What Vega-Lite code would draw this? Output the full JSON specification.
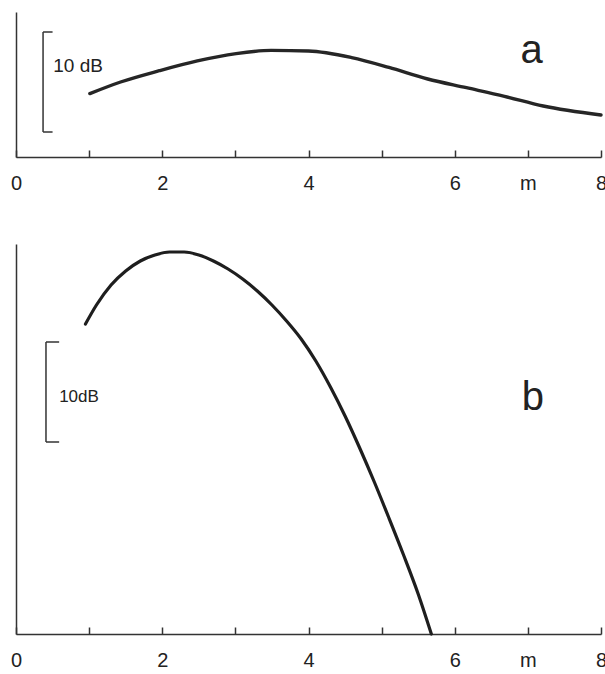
{
  "$schema": "https://vega.github.io/schema/vega-lite/v6.json",
  "padding": {"left": 10, "top": 12, "right": 0, "bottom": 0},
  "spacing": 51,
  "background": "white",
  "config": {
    "view": {"stroke": null},
    "axis": {"grid": false},
    "axisY": {"minExtent": 0, "maxExtent": 0},
    "line": {"color": "#222"}
  },
  "datasets": {
    "curveA": [
      {"x": 1.01, "dB": 6.34}, {"x": 1.43, "dB": 7.5}, {"x": 1.96, "dB": 8.63}, {"x": 2.48, "dB": 9.61},
      {"x": 3.01, "dB": 10.34}, {"x": 3.49, "dB": 10.66}, {"x": 4.0, "dB": 10.6}, {"x": 4.59, "dB": 9.94},
      {"x": 5.1, "dB": 8.96}, {"x": 5.63, "dB": 7.8}, {"x": 6.16, "dB": 6.93}, {"x": 6.68, "dB": 6.07},
      {"x": 7.21, "dB": 5.1}, {"x": 8.0, "dB": 4.2}
    ],
    "curveB": [
      {"x": 0.95, "dB": 31.0}, {"x": 1.1, "dB": 32.9}, {"x": 1.3, "dB": 34.9}, {"x": 1.5, "dB": 36.3},
      {"x": 1.7, "dB": 37.3}, {"x": 1.9, "dB": 37.9}, {"x": 2.1, "dB": 38.2}, {"x": 2.3, "dB": 38.2},
      {"x": 2.5, "dB": 37.9}, {"x": 2.7, "dB": 37.3}, {"x": 2.9, "dB": 36.5}, {"x": 3.1, "dB": 35.5},
      {"x": 3.3, "dB": 34.3}, {"x": 3.5, "dB": 32.9}, {"x": 3.7, "dB": 31.3}, {"x": 3.9, "dB": 29.5},
      {"x": 4.1, "dB": 27.3}, {"x": 4.3, "dB": 24.7}, {"x": 4.5, "dB": 21.8}, {"x": 4.7, "dB": 18.6},
      {"x": 4.9, "dB": 15.2}, {"x": 5.1, "dB": 11.6}, {"x": 5.3, "dB": 7.9}, {"x": 5.5, "dB": 4.0},
      {"x": 5.68, "dB": 0}
    ],
    "barA": [
      {"x": 0.37, "x2": 0.37, "dB": 2.5, "dB2": 12.5},
      {"x": 0.37, "x2": 0.5, "dB": 12.5, "dB2": 12.5},
      {"x": 0.37, "x2": 0.5, "dB": 2.5, "dB2": 2.5}
    ],
    "barB": [
      {"x": 0.41, "x2": 0.41, "dB": 19.2, "dB2": 29.2},
      {"x": 0.41, "x2": 0.59, "dB": 29.2, "dB2": 29.2},
      {"x": 0.41, "x2": 0.59, "dB": 19.2, "dB2": 19.2}
    ],
    "scaleA": [{"x": 0.51, "dB": 8.5, "text": "10 dB"}],
    "letterA": [{"x": 7.05, "dB": 9.4, "text": "a"}],
    "scaleB": [{"x": 0.59, "dB": 23.2, "text": "10dB"}],
    "letterB": [{"x": 7.07, "dB": 22.4, "text": "b"}]
  },
  "vconcat": [
    {
      "width": 585,
      "height": 145,
      "layer": [
        {
          "data": {"name": "curveA"},
          "mark": {"type": "line", "interpolate": "monotone", "strokeWidth": 3.4, "strokeCap": "round", "color": "#262626"},
          "encoding": {
            "x": {"field": "x", "type": "quantitative", "scale": {"domain": [0, 8], "nice": false},
              "axis": {"title": null, "values": [0, 1, 2, 3, 4, 5, 6, 7, 8], "format": "d",
                "labelExpr": "datum.value == 7 ? 'm' : (datum.value % 2 == 0 ? datum.label : '')",
                "tickSize": -7, "tickWidth": 1.5, "tickColor": "#333", "domainColor": "#333", "domainWidth": 1.5,
                "labelFont": "Liberation Sans", "labelFontSize": 20, "labelColor": "#222", "labelPadding": 23,
                "labelFlush": false, "labelOverlap": false, "labelBound": false}},
            "y": {"field": "dB", "type": "quantitative", "scale": {"domain": [0, 14.5], "nice": false},
              "axis": {"title": null, "ticks": false, "labels": false, "domainColor": "#333", "domainWidth": 1.5}}
          }
        },
        {
          "data": {"name": "barA"},
          "mark": {"type": "rule", "strokeWidth": 1.5, "color": "#333"},
          "encoding": {
            "x": {"field": "x", "type": "quantitative"},
            "x2": {"field": "x2"},
            "y": {"field": "dB", "type": "quantitative"},
            "y2": {"field": "dB2"}
          }
        },
        {
          "data": {"name": "scaleA"},
          "mark": {"type": "text", "font": "Liberation Sans", "baseline": "alphabetic", "align": "left", "fontSize": 19, "color": "#222"},
          "encoding": {
            "x": {"field": "x", "type": "quantitative"},
            "y": {"field": "dB", "type": "quantitative"},
            "text": {"field": "text"}
          }
        },
        {
          "data": {"name": "letterA"},
          "mark": {"type": "text", "font": "Liberation Sans", "baseline": "alphabetic", "align": "center", "fontSize": 40, "color": "#222"},
          "encoding": {
            "x": {"field": "x", "type": "quantitative"},
            "y": {"field": "dB", "type": "quantitative"},
            "text": {"field": "text"}
          }
        }
      ]
    },
    {
      "width": 585,
      "height": 390,
      "layer": [
        {
          "data": {"name": "curveB"},
          "mark": {"type": "line", "interpolate": "monotone", "strokeWidth": 3.2, "strokeCap": "round", "color": "#1e1e1e"},
          "encoding": {
            "x": {"field": "x", "type": "quantitative", "scale": {"domain": [0, 8], "nice": false},
              "axis": {"title": null, "values": [0, 1, 2, 3, 4, 5, 6, 7, 8], "format": "d",
                "labelExpr": "datum.value == 7 ? 'm' : (datum.value % 2 == 0 ? datum.label : '')",
                "tickSize": -7, "tickWidth": 1.5, "tickColor": "#333", "domainColor": "#333", "domainWidth": 1.5,
                "labelFont": "Liberation Sans", "labelFontSize": 20, "labelColor": "#222", "labelPadding": 23,
                "labelFlush": false, "labelOverlap": false, "labelBound": false}},
            "y": {"field": "dB", "type": "quantitative", "scale": {"domain": [0, 39], "nice": false},
              "axis": {"title": null, "ticks": false, "labels": false, "domainColor": "#333", "domainWidth": 1.5}}
          }
        },
        {
          "data": {"name": "barB"},
          "mark": {"type": "rule", "strokeWidth": 1.5, "color": "#333"},
          "encoding": {
            "x": {"field": "x", "type": "quantitative"},
            "x2": {"field": "x2"},
            "y": {"field": "dB", "type": "quantitative"},
            "y2": {"field": "dB2"}
          }
        },
        {
          "data": {"name": "scaleB"},
          "mark": {"type": "text", "font": "Liberation Sans", "baseline": "alphabetic", "align": "left", "fontSize": 17, "color": "#222"},
          "encoding": {
            "x": {"field": "x", "type": "quantitative"},
            "y": {"field": "dB", "type": "quantitative"},
            "text": {"field": "text"}
          }
        },
        {
          "data": {"name": "letterB"},
          "mark": {"type": "text", "font": "Liberation Sans", "baseline": "alphabetic", "align": "center", "fontSize": 40, "color": "#222"},
          "encoding": {
            "x": {"field": "x", "type": "quantitative"},
            "y": {"field": "dB", "type": "quantitative"},
            "text": {"field": "text"}
          }
        }
      ]
    }
  ]
}
